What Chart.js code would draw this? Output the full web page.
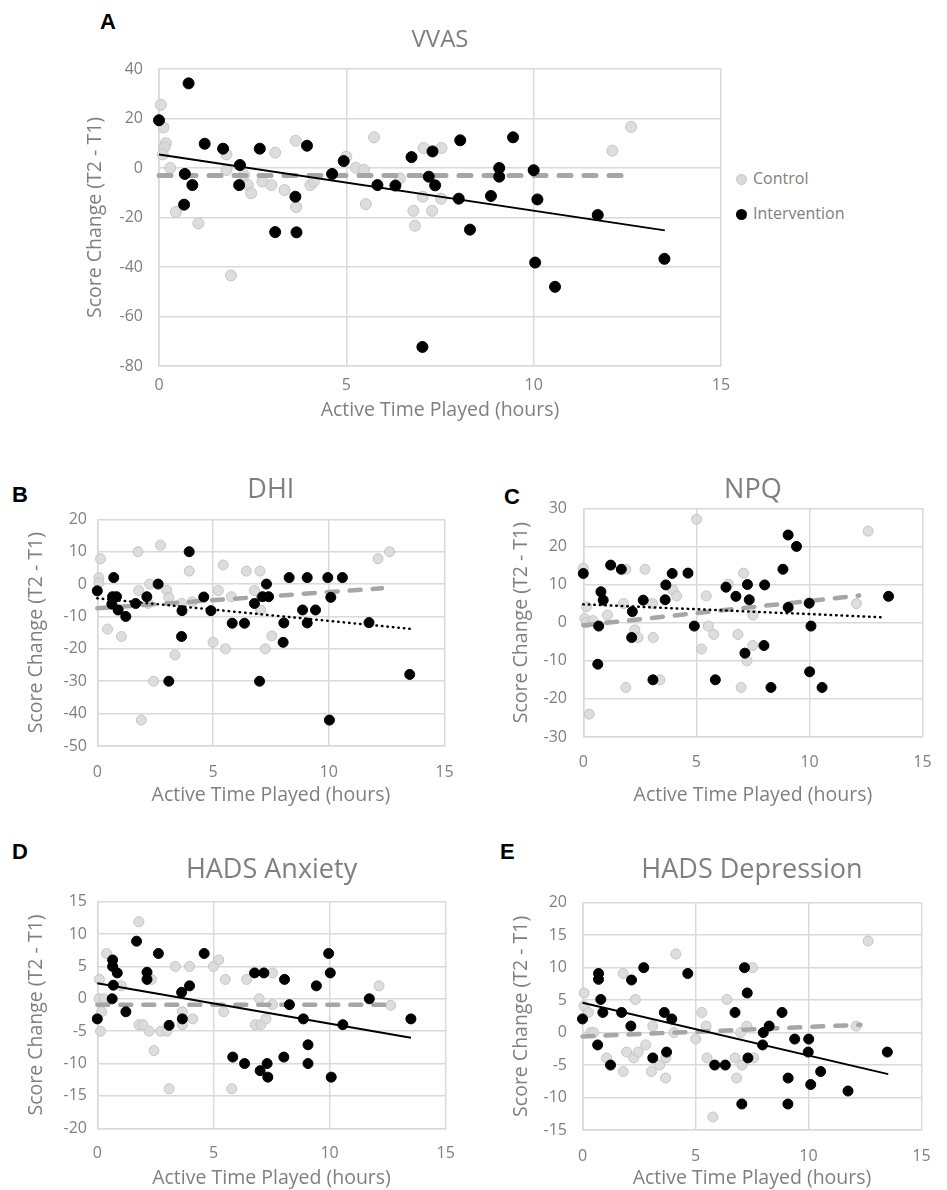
<!DOCTYPE html>
<html>
<head>
<meta charset="utf-8">
<script src="https://cdn.jsdelivr.net/npm/chart.js@4.4.1/dist/chart.umd.min.js"></script>
<style>
  body { margin: 0; background: #fff; width: 947px; height: 1190px; position: relative; overflow: hidden; font-family: "Open Sans", sans-serif; }
  canvas { position: absolute; }
  .tag { position: absolute; font-family: "Liberation Sans", Arial, sans-serif; font-weight: bold; font-size: 22px; color: #000; line-height: 22px; }
  .leg { position: absolute; left: 736px; font-size: 16px; color: #7f7f7f; line-height: 16px; }
  .leg span { display: inline-block; width: 11px; height: 11px; border-radius: 50%; margin-right: 6px; vertical-align: -1px; box-sizing: border-box; }
</style>
</head>
<body>
<div class="tag" style="left:100px;top:11px">A</div>
<div class="tag" style="left:12px;top:484px">B</div>
<div class="tag" style="left:504px;top:486px">C</div>
<div class="tag" style="left:12px;top:841px">D</div>
<div class="tag" style="left:500px;top:841px">E</div>
<div class="leg" style="top:170px"><span style="background:#d9d9d9;border:1px solid #c4c4c4"></span>Control</div>
<div class="leg" style="top:205px"><span style="background:#000"></span>Intervention</div>
<script>
// ---- VVAS ----
const aCtrlX = [0.05, 0.12, 0.18, 0.15, 0.1, 0.3, 0.45, 1.05, 1.8, 1.8, 1.92, 2.27, 2.37, 2.46, 2.76, 3.0, 3.1, 3.35, 3.65, 3.66, 4.04, 4.13, 5.0, 5.25, 5.47, 5.52, 5.74, 6.43, 6.79, 6.83, 7.06, 7.54, 7.04, 7.53, 7.29, 12.1, 12.6];
const aCtrlY = [25.5, 16.4, 10, 8.4, 5.5, 0, -17.8, -22.4, 5.5, -0.8, -43.4, -2.8, -6.9, -10.2, -5.5, -6.9, 6.2, -8.9, 11, -15.8, -6.9, -5.5, 4.6, 0.1, -0.8, -14.6, 12.4, -4.2, -17.3, -23.3, 8.1, 8.1, -11.6, -12.4, -17.3, 7, 16.6];
const aIntX = [0, 0.79, 0.69, 0.67, 0.89, 1.22, 1.71, 2.16, 2.14, 2.69, 3.1, 3.64, 3.67, 3.95, 4.62, 4.93, 5.83, 6.31, 6.74, 7.03, 7.3, 7.2, 7.37, 8.04, 8.0, 8.3, 8.86, 9.08, 9.08, 9.45, 10.0, 10.1, 10.04, 10.57, 11.71, 13.49];
const aIntY = [19.3, 34.2, -2.4, -14.8, -6.9, 9.8, 7.8, 1.2, -6.9, 7.8, -25.9, -11.6, -26, 9, -2.4, 2.8, -6.9, -7.1, 4.4, -72.3, 6.7, -3.5, -7, 11.2, -12.4, -24.9, -11.3, 0, -3.5, 12.4, -0.9, -12.7, -38.2, -48, -19, -36.7];
const aCtrlTrendX = [0, 12.4], aCtrlTrendY = [-3, -3];
const aIntTrendX = [0, 13.5], aIntTrendY = [5.5, -25.2];

// ---- DHI ----
const bCtrlX = [0.14, 0.07, 0.07, 0.44, 1.04, 1.76, 1.79, 1.9, 2.26, 2.43, 2.2, 2.73, 3.0, 3.09, 3.36, 3.65, 3.97, 4.1, 5.0, 5.23, 5.44, 5.54, 5.79, 6.44, 6.79, 7.03, 7.06, 7.26, 7.54, 12.13, 12.63];
const bCtrlY = [7.8, 2, 0.4, -13.9, -16.2, 10, -2, -42, 0, -30, -6, 12, -1.9, -4.1, -21.9, -6, 4, -5.5, -18, -2, 5.9, -20, -3.9, 4, -2, 4, -8, -20, -16, 7.8, 10];
const bIntX = [0, 0.71, 0.66, 0.83, 0.63, 0.9, 1.23, 1.66, 2.14, 2.63, 3.09, 3.66, 3.64, 3.97, 4.6, 4.91, 5.83, 6.36, 6.79, 7.01, 7.14, 7.4, 7.31, 8.06, 8.03, 8.29, 8.87, 9.07, 9.43, 9.07, 9.96, 10.59, 10.09, 11.74, 13.5, 10.03];
const bIntY = [-2.1, 2, -3.9, -3.9, -6.2, -8, -10, -6, -3.9, 0, -30, -8.2, -16.2, 10, -4, -8.2, -12.1, -12.1, -6, -30, -3.9, -3.9, 0, -12, -18, 2, -8, 2, -8, -12, 2, 2, -4.1, -11.9, -27.9, -42];
const bCtrlTrendX = [0, 12.3], bCtrlTrendY = [-7.5, -1.3];
const bIntTrendX = [0, 13.5], bIntTrendY = [-4.4, -13.8];

// ---- NPQ ----
const cCtrlX = [0, 0.26, 0.14, 0.07, 0.14, 0.43, 1.07, 1.78, 1.88, 1.88, 2.28, 2.42, 2.73, 3.06, 3.09, 3.39, 3.96, 4.13, 5.01, 5.23, 5.44, 5.53, 5.77, 6.41, 6.84, 6.98, 7.09, 7.24, 7.5, 7.5, 12.08, 12.6];
const cCtrlY = [14.3, -24, 4.2, 1.1, 0, 0.5, 2, 5, -17, 14, -1.9, -3.9, 14, 5, -3.9, -15, 8.6, 7, 27.1, -6.9, 7, -0.9, -3.1, 10.1, -3.1, -17, 13, -10, -6, 2, 5, 24];
const cIntX = [0, 0.78, 0.88, 0.68, 0.64, 1.21, 1.68, 2.17, 2.14, 2.65, 3.08, 3.65, 3.62, 3.93, 4.63, 4.91, 5.84, 6.31, 6.75, 7.26, 7.34, 7.15, 8.02, 7.99, 8.3, 8.83, 9.06, 9.43, 9.06, 9.99, 10.07, 10.01, 10.56, 13.5];
const cIntY = [12.9, 8.1, 5.9, -0.9, -10.9, 15.1, 14, 2.9, -3.9, 5.9, -15, 9.9, 6, 12.9, 13, -0.9, -15, 9.3, 6.9, 10, 6, -8, 9.9, -6, -17, 14, 23, 20, 4, 5.1, -0.9, -12.9, -17, 6.9];
const cCtrlTrendX = [0, 12.2], cCtrlTrendY = [-0.7, 7.1];
const cIntTrendX = [0, 13.3], cIntTrendY = [4.8, 1.4];

// ---- HADS Anxiety ----
const dCtrlX = [0.09, 0.07, 0.19, 0.14, 0.4, 0.29, 1.04, 1.79, 1.79, 1.97, 2.23, 2.33, 2.44, 2.73, 3.0, 3.09, 3.36, 3.66, 3.66, 3.97, 4.11, 5.0, 5.23, 5.44, 5.51, 5.79, 6.43, 6.8, 7.04, 6.97, 7.26, 7.54, 7.54, 12.13, 12.63];
const dCtrlY = [3, 0, -2, -5, 7, 0, 2, 11.9, -4, -4, -5, 3, -8, -5, -5, -13.9, 5, -2, -4, 5, -3.1, 5, 6, -2, 3, -13.9, 3, -4, -4, 0, -3.1, 4, -0.9, 2, -1];
const dIntX = [0, 0.66, 0.66, 0.86, 0.69, 0.64, 1.23, 1.69, 2.14, 2.14, 2.63, 3.09, 3.66, 3.63, 3.97, 4.6, 5.83, 6.34, 6.77, 7.17, 7.01, 7.31, 7.34, 8.06, 8.03, 8.27, 8.87, 9.07, 9.07, 9.43, 9.96, 10.03, 10.07, 10.57, 11.71, 13.5];
const dIntY = [-3.1, 6, 5, 4, 2.1, 0, -2, 8.9, 4.1, 3, 7, -4.1, -3.1, 1, 2, 7, -9, -10, 4, 4, -11.1, -10, -12.1, 3, -9, -0.9, -3.1, -7.1, -10, 2, 7, 4, -12.1, -4, 0, -3.1];
const dCtrlTrendX = [0, 12.4], dCtrlTrendY = [-0.9, -0.9];
const dIntTrendX = [0, 13.5], dIntTrendY = [2.4, -6];

// ---- HADS Depression ----
const eCtrlX = [0.07, 0.07, 0.26, 0.36, 0.5, 1.07, 1.8, 1.8, 1.95, 2.27, 2.34, 2.46, 2.8, 3.05, 3.11, 3.41, 3.69, 3.68, 4.05, 4.13, 5.01, 5.28, 5.47, 5.51, 5.77, 6.39, 6.75, 6.82, 7.06, 7.27, 7.53, 7.0, 7.57, 12.64, 12.11];
const eCtrlY = [6.1, 4.1, 3.1, 0, 0, -3.9, 9.1, -6, -3, -3.9, 5.1, -3, -1.9, -6, 1, -5, -3.9, -7, 0, 12.1, -1, 3.1, 1, -3.9, -13, 5.1, -3.9, -7, -5, 1, 10, 0, -3.9, 14.1, 1];
const eIntX = [0, 0.71, 0.71, 0.81, 0.9, 0.67, 1.24, 1.73, 2.17, 2.14, 2.71, 3.11, 3.62, 3.95, 3.72, 4.66, 5.85, 6.32, 6.75, 7.17, 7.29, 7.32, 7.05, 8.0, 8.26, 7.97, 8.83, 9.39, 10.01, 9.99, 9.1, 9.09, 10.1, 10.54, 11.75, 13.49];
const eIntY = [2.1, 9.1, 8.2, 5.1, 3.1, -1.9, -5, 3.1, 8.1, 1, 10, -3.9, 3.1, 2.1, -3, 9.1, -5, -5, 3.1, 10, 6.1, -3.9, -11, 0, 1, -1.9, 3.1, -1, -1, -3, -7, -11, -8, -6, -9, -3];
const eCtrlTrendX = [0, 12.3], eCtrlTrendY = [-0.6, 1.2];
const eIntTrendX = [0, 13.53], eIntTrendY = [4.6, -6.4];

const xTicks = [0, 5, 10, 15];

const TXT = '#7f7f7f';
const GRID = '#d9d9d9';
const FONT = '"Open Sans", sans-serif';
const TICK_SIZE = 16;
const AXIS_SIZE = 19.5;

function pts(xs, ys) {
    return xs.map((x, i) => ({ x: x, y: ys[i] }));
}

function makePanel(p) {
    const [cx, cy, cw, ch] = p.box;       // canvas position in page
    const [l, r, t, b] = p.area;          // plot area in page
    const cv = document.createElement('canvas');
    cv.width = cw; cv.height = ch;
    cv.style.left = cx + 'px'; cv.style.top = cy + 'px';
    document.body.appendChild(cv);

    const tLh = p.titleSize * 1.2;
    const tTop = p.titleY - cy - tLh / 2;
    const aLh = AXIS_SIZE * 1.2;
    const radius = p.radius || 5;

    const intLine = p.dotted
        ? { borderDash: [0.5, 5], borderCapStyle: 'round', borderWidth: 2.5 }
        : { borderDash: [], borderWidth: 2 };

    new Chart(cv, {
        type: 'scatter',
        data: {
            datasets: [
                Object.assign({ data: pts(p.intTrend[0], p.intTrend[1]), showLine: true, pointRadius: 0,
                    borderColor: '#000', order: 0, clip: false }, intLine),
                { data: pts(p.int[0], p.int[1]), pointRadius: radius, backgroundColor: '#000',
                  borderColor: '#000', borderWidth: 1, order: 1, clip: false },
                { data: pts(p.ctrlTrend[0], p.ctrlTrend[1]), showLine: true, pointRadius: 0,
                  borderColor: '#a6a6a6', borderWidth: p.dashW, borderDash: p.dash, borderCapStyle: 'round',
                  order: 2, clip: false },
                { data: pts(p.ctrl[0], p.ctrl[1]), pointRadius: radius, backgroundColor: 'rgba(217,217,217,0.9)',
                  borderColor: '#c4c4c4', borderWidth: 1, order: 3, clip: false }
            ]
        },
        options: {
            responsive: false,
            animation: false,
            devicePixelRatio: 1,
            layout: { padding: { left: 0, top: 0, bottom: 0, right: cx + cw - r } },
            plugins: {
                legend: { display: false },
                tooltip: { enabled: false },
                title: {
                    display: true, text: p.title, color: TXT, fullSize: false,
                    font: { family: FONT, size: p.titleSize, weight: 'normal', lineHeight: 1.2 },
                    padding: { top: tTop, bottom: (t - cy) - tTop - tLh }
                }
            },
            scales: {
                x: {
                    type: 'linear', min: 0, max: 15,
                    afterBuildTicks: s => { s.ticks = xTicks.map(v => ({ value: v })); },
                    afterFit: s => { s.height = cy + ch - b; },
                    grid: { color: GRID, lineWidth: 1.5, drawTicks: false },
                    border: { color: GRID, width: 1.5 },
                    ticks: { color: TXT, font: { family: FONT, size: TICK_SIZE }, padding: p.xTickY - b - TICK_SIZE * 0.6 },
                    title: { display: true, text: 'Active Time Played (hours)', color: TXT,
                        font: { family: FONT, size: AXIS_SIZE, lineHeight: 1.2 },
                        padding: { top: 0, bottom: cy + ch - p.xTitleY - aLh / 2 } }
                },
                y: {
                    type: 'linear', min: p.yMin, max: p.yMax,
                    ticks: { stepSize: p.yStep, color: TXT, font: { family: FONT, size: TICK_SIZE }, padding: l - p.yTickR },
                    afterFit: s => { s.width = l - cx; },
                    grid: { color: GRID, lineWidth: 1.5, drawTicks: false },
                    border: { color: GRID, width: 1.5 },
                    title: { display: true, text: 'Score Change (T2 - T1)', color: TXT,
                        font: { family: FONT, size: AXIS_SIZE, lineHeight: 1.2 },
                        padding: { top: p.yTitleX - cx - aLh / 2, bottom: 0 } }
                }
            }
        }
    });
}

makePanel({
    box: [60, 15, 680, 410], area: [159, 721, 69, 366],
    title: 'VVAS', titleSize: 24, titleY: 40,
    yMin: -80, yMax: 40, yStep: 20, yTickR: 143, yTitleX: 95, xTickY: 385, xTitleY: 410,
    ctrl: [aCtrlX, aCtrlY], int: [aIntX, aIntY],
    ctrlTrend: [aCtrlTrendX, aCtrlTrendY], intTrend: [aIntTrendX, aIntTrendY],
    radius: 5.5, dash: [12, 13], dashW: 5, dotted: false
});
makePanel({
    box: [0, 470, 470, 340], area: [97.3, 447.7, 519.3, 746],
    title: 'DHI', titleSize: 27, titleY: 490,
    yMin: -50, yMax: 20, yStep: 10, yTickR: 87, yTitleX: 36, xTickY: 772, xTitleY: 795,
    ctrl: [bCtrlX, bCtrlY], int: [bIntX, bIntY],
    ctrlTrend: [bCtrlTrendX, bCtrlTrendY], intTrend: [bIntTrendX, bIntTrendY],
    dash: [11, 12], dashW: 4.5, dotted: true
});
makePanel({
    box: [485, 470, 462, 340], area: [583.3, 934, 508.3, 737],
    title: 'NPQ', titleSize: 27, titleY: 490,
    yMin: -30, yMax: 30, yStep: 10, yTickR: 567, yTitleX: 521, xTickY: 762, xTitleY: 795,
    ctrl: [cCtrlX, cCtrlY], int: [cIntX, cIntY],
    ctrlTrend: [cCtrlTrendX, cCtrlTrendY], intTrend: [cIntTrendX, cIntTrendY],
    dash: [11, 12], dashW: 4.5, dotted: true
});
makePanel({
    box: [0, 845, 470, 345], area: [97.3, 447.7, 901.7, 1128.3],
    title: 'HADS Anxiety', titleSize: 27, titleY: 870,
    yMin: -20, yMax: 15, yStep: 5, yTickR: 87, yTitleX: 36, xTickY: 1153, xTitleY: 1178,
    ctrl: [dCtrlX, dCtrlY], int: [dIntX, dIntY],
    ctrlTrend: [dCtrlTrendX, dCtrlTrendY], intTrend: [dIntTrendX, dIntTrendY],
    dash: [11, 12], dashW: 4.5, dotted: false
});
makePanel({
    box: [485, 845, 462, 345], area: [582.5, 933.3, 902.7, 1130],
    title: 'HADS Depression', titleSize: 27, titleY: 870,
    yMin: -15, yMax: 20, yStep: 5, yTickR: 567, yTitleX: 521, xTickY: 1156, xTitleY: 1178,
    ctrl: [eCtrlX, eCtrlY], int: [eIntX, eIntY],
    ctrlTrend: [eCtrlTrendX, eCtrlTrendY], intTrend: [eIntTrendX, eIntTrendY],
    dash: [11, 12], dashW: 4.5, dotted: false
});
</script>
</body>
</html>
